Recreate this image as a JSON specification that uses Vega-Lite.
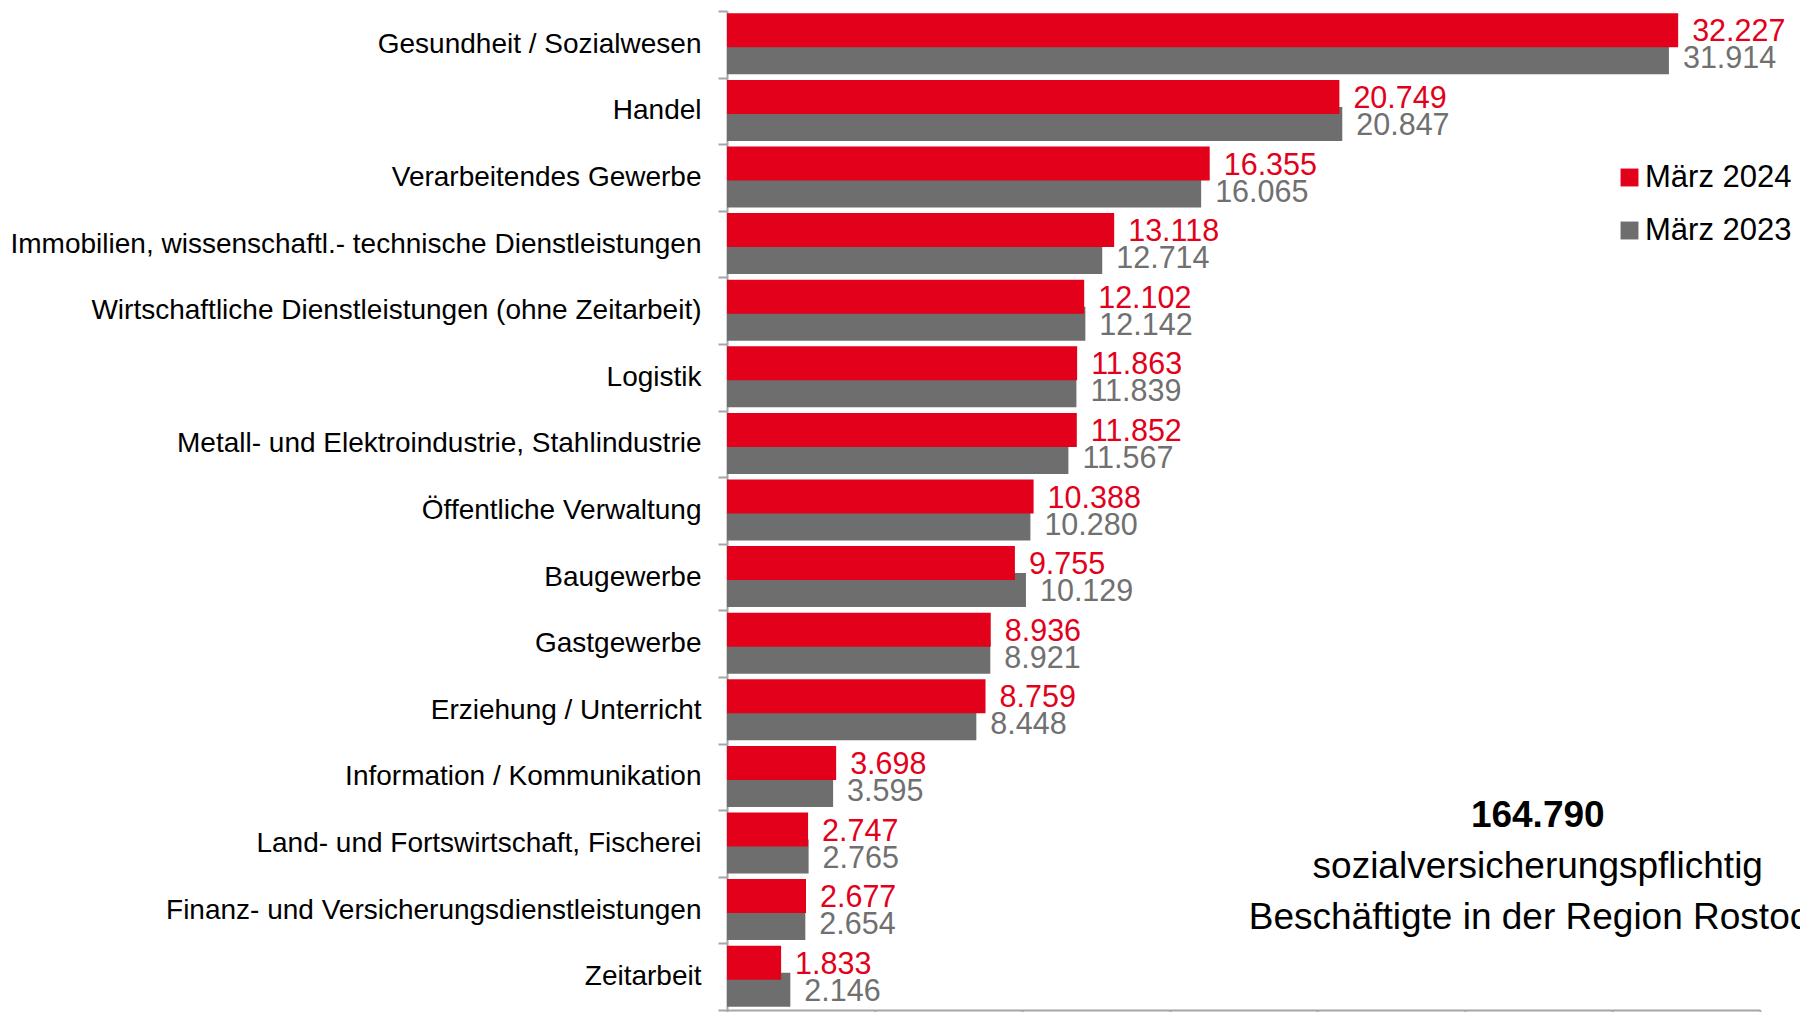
{
  "$schema": "https://vega.github.io/schema/vega-lite/v6.json",
  "width": 1033,
  "height": 999,
  "autosize": {"type": "none"},
  "padding": {"left": 727, "top": 11, "right": 40, "bottom": 2},
  "background": "white",
  "config": {
    "view": {"stroke": null},
    "font": "Liberation Sans",
    "locale": {"number": {"decimal": ",", "thousands": ".", "grouping": [3], "currency": ["", " €"]}}
  },
  "datasets": {
    "main": [
      {"category": "Gesundheit / Sozialwesen", "year": "März 2024", "value": 32227},
      {"category": "Gesundheit / Sozialwesen", "year": "März 2023", "value": 31914},
      {"category": "Handel", "year": "März 2024", "value": 20749},
      {"category": "Handel", "year": "März 2023", "value": 20847},
      {"category": "Verarbeitendes Gewerbe", "year": "März 2024", "value": 16355},
      {"category": "Verarbeitendes Gewerbe", "year": "März 2023", "value": 16065},
      {"category": "Immobilien, wissenschaftl.- technische Dienstleistungen", "year": "März 2024", "value": 13118},
      {"category": "Immobilien, wissenschaftl.- technische Dienstleistungen", "year": "März 2023", "value": 12714},
      {"category": "Wirtschaftliche Dienstleistungen (ohne Zeitarbeit)", "year": "März 2024", "value": 12102},
      {"category": "Wirtschaftliche Dienstleistungen (ohne Zeitarbeit)", "year": "März 2023", "value": 12142},
      {"category": "Logistik", "year": "März 2024", "value": 11863},
      {"category": "Logistik", "year": "März 2023", "value": 11839},
      {"category": "Metall- und Elektroindustrie, Stahlindustrie", "year": "März 2024", "value": 11852},
      {"category": "Metall- und Elektroindustrie, Stahlindustrie", "year": "März 2023", "value": 11567},
      {"category": "Öffentliche Verwaltung", "year": "März 2024", "value": 10388},
      {"category": "Öffentliche Verwaltung", "year": "März 2023", "value": 10280},
      {"category": "Baugewerbe", "year": "März 2024", "value": 9755},
      {"category": "Baugewerbe", "year": "März 2023", "value": 10129},
      {"category": "Gastgewerbe", "year": "März 2024", "value": 8936},
      {"category": "Gastgewerbe", "year": "März 2023", "value": 8921},
      {"category": "Erziehung / Unterricht", "year": "März 2024", "value": 8759},
      {"category": "Erziehung / Unterricht", "year": "März 2023", "value": 8448},
      {"category": "Information / Kommunikation", "year": "März 2024", "value": 3698},
      {"category": "Information / Kommunikation", "year": "März 2023", "value": 3595},
      {"category": "Land- und Fortswirtschaft, Fischerei", "year": "März 2024", "value": 2747},
      {"category": "Land- und Fortswirtschaft, Fischerei", "year": "März 2023", "value": 2765},
      {"category": "Finanz- und Versicherungsdienstleistungen", "year": "März 2024", "value": 2677},
      {"category": "Finanz- und Versicherungsdienstleistungen", "year": "März 2023", "value": 2654},
      {"category": "Zeitarbeit", "year": "März 2024", "value": 1833},
      {"category": "Zeitarbeit", "year": "März 2023", "value": 2146}
    ],
    "note1": [{"text": "164.790"}],
    "note2": [{"text": "sozialversicherungspflichtig"}],
    "note3": [{"text": "Beschäftigte in der Region Rostock"}]
  },
  "layer": [
    {
      "data": {"name": "main"},
      "transform": [{"filter": "datum.year == 'März 2023'"}],
      "mark": {"type": "bar", "height": 34, "yOffset": 13},
      "encoding": {
        "y": {
          "field": "category",
          "type": "nominal",
          "scale": {
            "domain": [
              "Gesundheit / Sozialwesen",
              "Handel",
              "Verarbeitendes Gewerbe",
              "Immobilien, wissenschaftl.- technische Dienstleistungen",
              "Wirtschaftliche Dienstleistungen (ohne Zeitarbeit)",
              "Logistik",
              "Metall- und Elektroindustrie, Stahlindustrie",
              "Öffentliche Verwaltung",
              "Baugewerbe",
              "Gastgewerbe",
              "Erziehung / Unterricht",
              "Information / Kommunikation",
              "Land- und Fortswirtschaft, Fischerei",
              "Finanz- und Versicherungsdienstleistungen",
              "Zeitarbeit"
            ],
            "paddingInner": 0,
            "paddingOuter": 0
          },
          "axis": {
            "title": null,
            "tickBand": "extent",
            "tickSize": 9,
            "tickWidth": 2,
            "tickColor": "#A6A6A6",
            "domainColor": "#A6A6A6",
            "domainWidth": 2,
            "labelFontSize": 28,
            "labelColor": "#000000",
            "labelPadding": 17,
            "labelLimit": 900
          }
        },
        "x": {
          "field": "value",
          "type": "quantitative",
          "scale": {"domain": [0, 35000], "nice": false},
          "axis": {
            "title": null,
            "labels": false,
            "grid": false,
            "values": [0, 5000, 10000, 15000, 20000, 25000, 30000, 35000],
            "tickSize": 5,
            "tickWidth": 2,
            "tickColor": "#A6A6A6",
            "domainColor": "#A6A6A6",
            "domainWidth": 2
          }
        },
        "color": {
          "field": "year",
          "type": "nominal",
          "scale": {"domain": ["März 2024", "März 2023"], "range": ["#E2001A", "#6E6E6E"]},
          "legend": {
            "orient": "none",
            "legendX": 887,
            "legendY": 151,
            "title": null,
            "symbolType": "square",
            "symbolSize": 320,
            "symbolStrokeWidth": 0,
            "labelFontSize": 31,
            "labelColor": "#000000",
            "labelOffset": 0,
            "rowPadding": 21
          }
        }
      }
    },
    {
      "data": {"name": "main"},
      "transform": [{"filter": "datum.year == 'März 2024'"}],
      "mark": {"type": "bar", "height": 34, "yOffset": -14},
      "encoding": {
        "y": {"field": "category", "type": "nominal", "title": null},
        "x": {"field": "value", "type": "quantitative", "title": null},
        "color": {"field": "year", "type": "nominal"}
      }
    },
    {
      "data": {"name": "main"},
      "transform": [{"filter": "datum.year == 'März 2024'"}],
      "mark": {"type": "text", "align": "left", "baseline": "middle", "dx": 14, "yOffset": -12, "fontSize": 30.5, "color": "#E2001A"},
      "encoding": {
        "y": {"field": "category", "type": "nominal", "title": null},
        "x": {"field": "value", "type": "quantitative", "title": null},
        "text": {"field": "value", "type": "quantitative", "format": ",.0f"}
      }
    },
    {
      "data": {"name": "main"},
      "transform": [{"filter": "datum.year == 'März 2023'"}],
      "mark": {"type": "text", "align": "left", "baseline": "middle", "dx": 14, "yOffset": 15, "fontSize": 30.5, "color": "#707070"},
      "encoding": {
        "y": {"field": "category", "type": "nominal", "title": null},
        "x": {"field": "value", "type": "quantitative", "title": null},
        "text": {"field": "value", "type": "quantitative", "format": ",.0f"}
      }
    },
    {
      "data": {"name": "note1"},
      "mark": {"type": "text", "align": "center", "baseline": "middle", "fontSize": 37, "fontWeight": "bold", "color": "#000000", "yOffset": -28},
      "encoding": {
        "y": {"datum": "Land- und Fortswirtschaft, Fischerei", "type": "nominal", "title": null},
        "x": {"datum": 27470, "type": "quantitative", "title": null},
        "text": {"field": "text"}
      }
    },
    {
      "data": {"name": "note2"},
      "mark": {"type": "text", "align": "center", "baseline": "middle", "fontSize": 37, "color": "#000000", "yOffset": 23},
      "encoding": {
        "y": {"datum": "Land- und Fortswirtschaft, Fischerei", "type": "nominal", "title": null},
        "x": {"datum": 27470, "type": "quantitative", "title": null},
        "text": {"field": "text"}
      }
    },
    {
      "data": {"name": "note3"},
      "mark": {"type": "text", "align": "center", "baseline": "middle", "fontSize": 37, "color": "#000000", "yOffset": 8},
      "encoding": {
        "y": {"datum": "Finanz- und Versicherungsdienstleistungen", "type": "nominal", "title": null},
        "x": {"datum": 27470, "type": "quantitative", "title": null},
        "text": {"field": "text"}
      }
    }
  ]
}
